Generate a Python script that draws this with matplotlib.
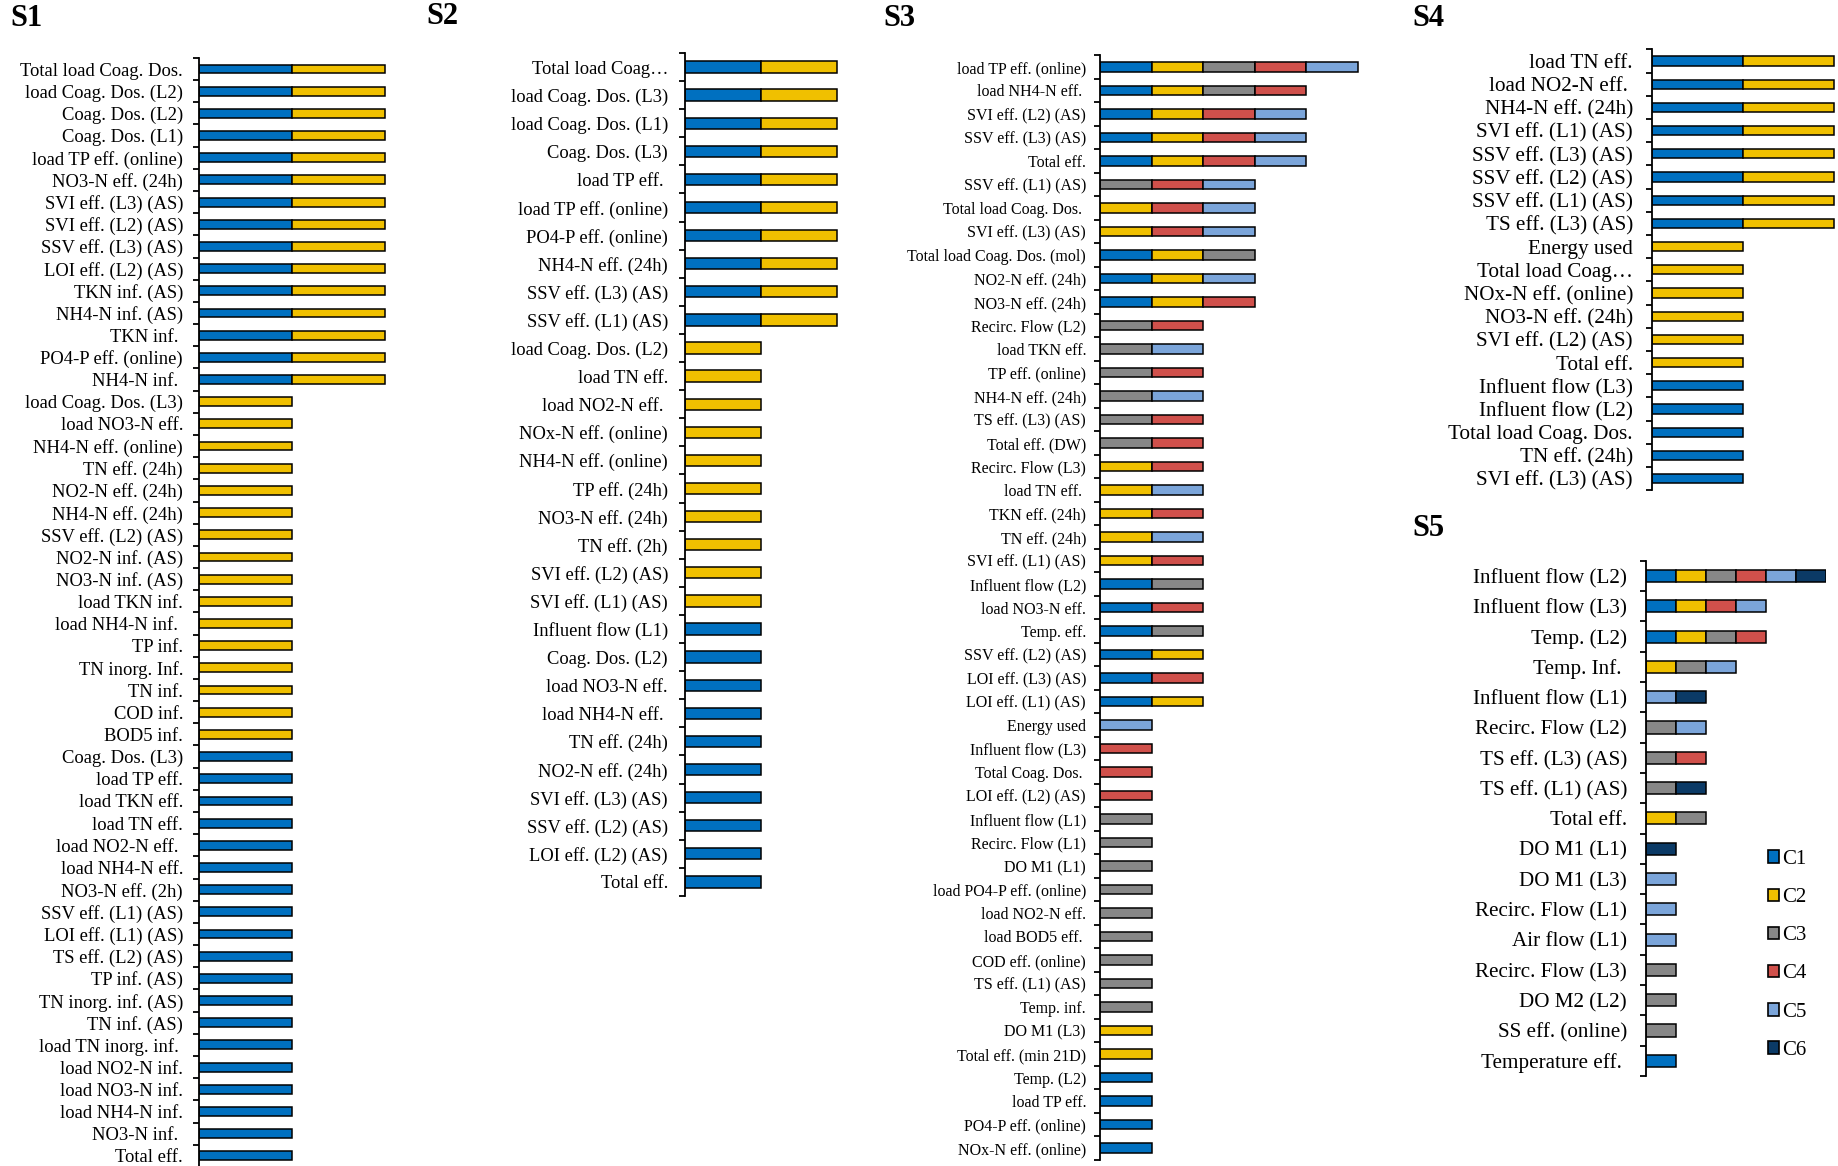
import matplotlib
matplotlib.use("Agg")
import matplotlib.pyplot as plt
from matplotlib.patches import Patch

plt.rcParams['font.family'] = ['Liberation Serif', 'DejaVu Serif']

W, H = 1838, 1166

cluster_names = ["C1", "C2", "C3", "C4", "C5", "C6"]
cluster_colors = ["#0070C0", "#F0C000", "#878787", "#D0504B", "#7BA5DA", "#0B3A66"]

# each entry lists the clusters (1..6) a variable belongs to
s1_labels = [
    "Total load Coag. Dos.", "load Coag. Dos. (L2)", "Coag. Dos. (L2)", "Coag. Dos. (L1)",
    "load TP eff. (online)", "NO3-N eff. (24h)", "SVI eff. (L3) (AS)", "SVI eff. (L2) (AS)",
    "SSV eff. (L3) (AS)", "LOI eff. (L2) (AS)", "TKN inf. (AS)", "NH4-N inf. (AS)",
    "TKN inf. ", "PO4-P eff. (online)", "NH4-N inf. ",
    "load Coag. Dos. (L3)", "load NO3-N eff.", "NH4-N eff. (online)", "TN eff. (24h)",
    "NO2-N eff. (24h)", "NH4-N eff. (24h)", "SSV eff. (L2) (AS)", "NO2-N inf. (AS)",
    "NO3-N inf. (AS)", "load TKN inf.", "load NH4-N inf. ", "TP inf.", "TN inorg. Inf.",
    "TN inf.", "COD inf.", "BOD5 inf.",
    "Coag. Dos. (L3)", "load TP eff.", "load TKN eff.", "load TN eff.", "load NO2-N eff. ",
    "load NH4-N eff.", "NO3-N eff. (2h)", "SSV eff. (L1) (AS)", "LOI eff. (L1) (AS)",
    "TS eff. (L2) (AS)", "TP inf. (AS)", "TN inorg. inf. (AS)", "TN inf. (AS)",
    "load TN inorg. inf. ", "load NO2-N inf.", "load NO3-N inf.", "load NH4-N inf.",
    "NO3-N inf. ", "Total eff.",
]
s1_groups = [
    "12", "12", "12", "12", "12", "12", "12", "12", "12", "12", "12", "12", "12", "12", "12",
    "2", "2", "2", "2", "2", "2", "2", "2", "2", "2", "2", "2", "2", "2", "2", "2",
    "1", "1", "1", "1", "1", "1", "1", "1", "1", "1", "1", "1", "1", "1", "1", "1", "1",
    "1", "1",
]

s2_labels = [
    "Total load Coag\u2026", "load Coag. Dos. (L3)", "load Coag. Dos. (L1)", "Coag. Dos. (L3)",
    "load TP eff. ", "load TP eff. (online)", "PO4-P eff. (online)", "NH4-N eff. (24h)",
    "SSV eff. (L3) (AS)", "SSV eff. (L1) (AS)",
    "load Coag. Dos. (L2)", "load TN eff.", "load NO2-N eff. ", "NOx-N eff. (online)",
    "NH4-N eff. (online)", "TP eff. (24h)", "NO3-N eff. (24h)", "TN eff. (2h)",
    "SVI eff. (L2) (AS)", "SVI eff. (L1) (AS)",
    "Influent flow (L1)", "Coag. Dos. (L2)", "load NO3-N eff.", "load NH4-N eff. ",
    "TN eff. (24h)", "NO2-N eff. (24h)", "SVI eff. (L3) (AS)", "SSV eff. (L2) (AS)",
    "LOI eff. (L2) (AS)", "Total eff.",
]
s2_groups = [
    "12", "12", "12", "12", "12", "12", "12", "12", "12", "12",
    "2", "2", "2", "2", "2", "2", "2", "2", "2", "2",
    "1", "1", "1", "1", "1", "1", "1", "1", "1", "1",
]

s3_labels = [
    "load TP eff. (online)", "load NH4-N eff. ", "SVI eff. (L2) (AS)", "SSV eff. (L3) (AS)",
    "Total eff.", "SSV eff. (L1) (AS)", "Total load Coag. Dos. ", "SVI eff. (L3) (AS)",
    "Total load Coag. Dos. (mol)", "NO2-N eff. (24h)", "NO3-N eff. (24h)",
    "Recirc. Flow (L2)", "load TKN eff.", "TP eff. (online)", "NH4-N eff. (24h)",
    "TS eff. (L3) (AS)", "Total eff. (DW)", "Recirc. Flow (L3)", "load TN eff. ",
    "TKN eff. (24h)", "TN eff. (24h)", "SVI eff. (L1) (AS)", "Influent flow (L2)",
    "load NO3-N eff.", "Temp. eff.", "SSV eff. (L2) (AS)", "LOI eff. (L3) (AS)",
    "LOI eff. (L1) (AS)", "Energy used", "Influent flow (L3)", "Total Coag. Dos. ",
    "LOI eff. (L2) (AS)", "Influent flow (L1)", "Recirc. Flow (L1)", "DO M1 (L1)",
    "load PO4-P eff. (online)", "load NO2-N eff.", "load BOD5 eff. ", "COD eff. (online)",
    "TS eff. (L1) (AS)", "Temp. inf.", "DO M1 (L3)", "Total eff. (min 21D)", "Temp. (L2)",
    "load TP eff.", "PO4-P eff. (online)", "NOx-N eff. (online)",
]
s3_groups = [
    "12345", "1234", "1245", "1245", "1245", "345", "245", "245", "123", "125", "124",
    "34", "35", "34", "35", "34", "34", "24", "25", "24", "25", "24", "13", "14", "13",
    "12", "14", "12", "5", "4", "4", "4", "3", "3", "3", "3", "3", "3", "3", "3", "3",
    "2", "2", "1", "1", "1", "1",
]

s4_labels = [
    "load TN eff.", "load NO2-N eff. ", "NH4-N eff. (24h)", "SVI eff. (L1) (AS)",
    "SSV eff. (L3) (AS)", "SSV eff. (L2) (AS)", "SSV eff. (L1) (AS)", "TS eff. (L3) (AS)",
    "Energy used", "Total load Coag\u2026", "NOx-N eff. (online)", "NO3-N eff. (24h)",
    "SVI eff. (L2) (AS)", "Total eff.", "Influent flow (L3)", "Influent flow (L2)",
    "Total load Coag. Dos.", "TN eff. (24h)", "SVI eff. (L3) (AS)",
]
s4_groups = [
    "12", "12", "12", "12", "12", "12", "12", "12",
    "2", "2", "2", "2", "2", "2", "1", "1", "1", "1", "1",
]

s5_labels = [
    "Influent flow (L2)", "Influent flow (L3)", "Temp. (L2)", "Temp. Inf. ",
    "Influent flow (L1)", "Recirc. Flow (L2)", "TS eff. (L3) (AS)", "TS eff. (L1) (AS)",
    "Total eff.", "DO M1 (L1)", "DO M1 (L3)", "Recirc. Flow (L1)", "Air flow (L1)",
    "Recirc. Flow (L3)", "DO M2 (L2)", "SS eff. (online)", "Temperature eff. ",
]
s5_groups = [
    "123456", "1245", "1234", "235", "56", "35", "34", "36", "23", "6", "5", "5", "5",
    "3", "3", "3", "1",
]

fig = plt.figure(figsize=(W / 100, H / 100), dpi=100)


def panel(title, labels, groups, x0, unit, y0, step, xmax, fsize, pad, title_xy):
    n = len(labels)
    ytop = y0 - step / 2
    ybot = y0 + (n - 0.5) * step
    ax = fig.add_axes([x0 / W, 1 - ybot / H, xmax * unit / W, (ybot - ytop) / H])
    for k, color in enumerate(cluster_colors):
        rows, lefts = [], []
        for i, g in enumerate(groups):
            if str(k + 1) in g:
                rows.append(i)
                lefts.append(g.index(str(k + 1)))
        if rows:
            ax.barh(rows, [1] * len(rows), left=lefts, height=0.4, color=color,
                    edgecolor="black", linewidth=1.1)
    ax.set_ylim(n - 0.5, -0.5)
    ax.set_xlim(0, xmax)
    for s in ["top", "right", "bottom"]:
        ax.spines[s].set_visible(False)
    ax.spines["left"].set_linewidth(1.3)
    ax.set_xticks([])
    ax.set_yticks(range(n))
    ax.set_yticklabels(labels, fontsize=fsize)
    ax.set_yticks([i - 0.5 for i in range(n + 1)], minor=True)
    ax.tick_params(axis="y", which="major", length=0, pad=pad)
    ax.tick_params(axis="y", which="minor", length=4.5, width=1.3, direction="out")
    ax.patch.set_alpha(0)
    fig.text(title_xy[0] / W, 1 - title_xy[1] / H, title, fontsize=22,
             fontweight="bold", va="center", ha="left")
    return ax


panel("S1", s1_labels, s1_groups, 199, 93, 69, 22.18, 2.2, 13.4, 11.5, (10, 18))
panel("S2", s2_labels, s2_groups, 685, 76, 67, 28.1, 2.2, 13.3, 12.2, (426, 17))
panel("S3", s3_labels, s3_groups, 1100, 51.5, 67, 23.5, 5.2, 11.5, 10.0, (883, 18))
panel("S4", s4_labels, s4_groups, 1652, 91, 61, 23.2, 2.04, 15.2, 13.7, (1412, 18))
panel("S5", s5_labels, s5_groups, 1646, 30, 576, 30.3, 6.0, 15.2, 13.7, (1412, 528))

handles = [Patch(facecolor=c, edgecolor="black", linewidth=1.2) for c in cluster_colors]
fig.legend(handles, cluster_names, loc="upper left",
           bbox_to_anchor=(1768 / W, 1 - 850 / H), frameon=False, fontsize=15,
           handlelength=0.55, handleheight=0.55, handletextpad=0.15,
           labelspacing=0.92, borderpad=0, borderaxespad=0)

fig.savefig("out.png", dpi=100)
